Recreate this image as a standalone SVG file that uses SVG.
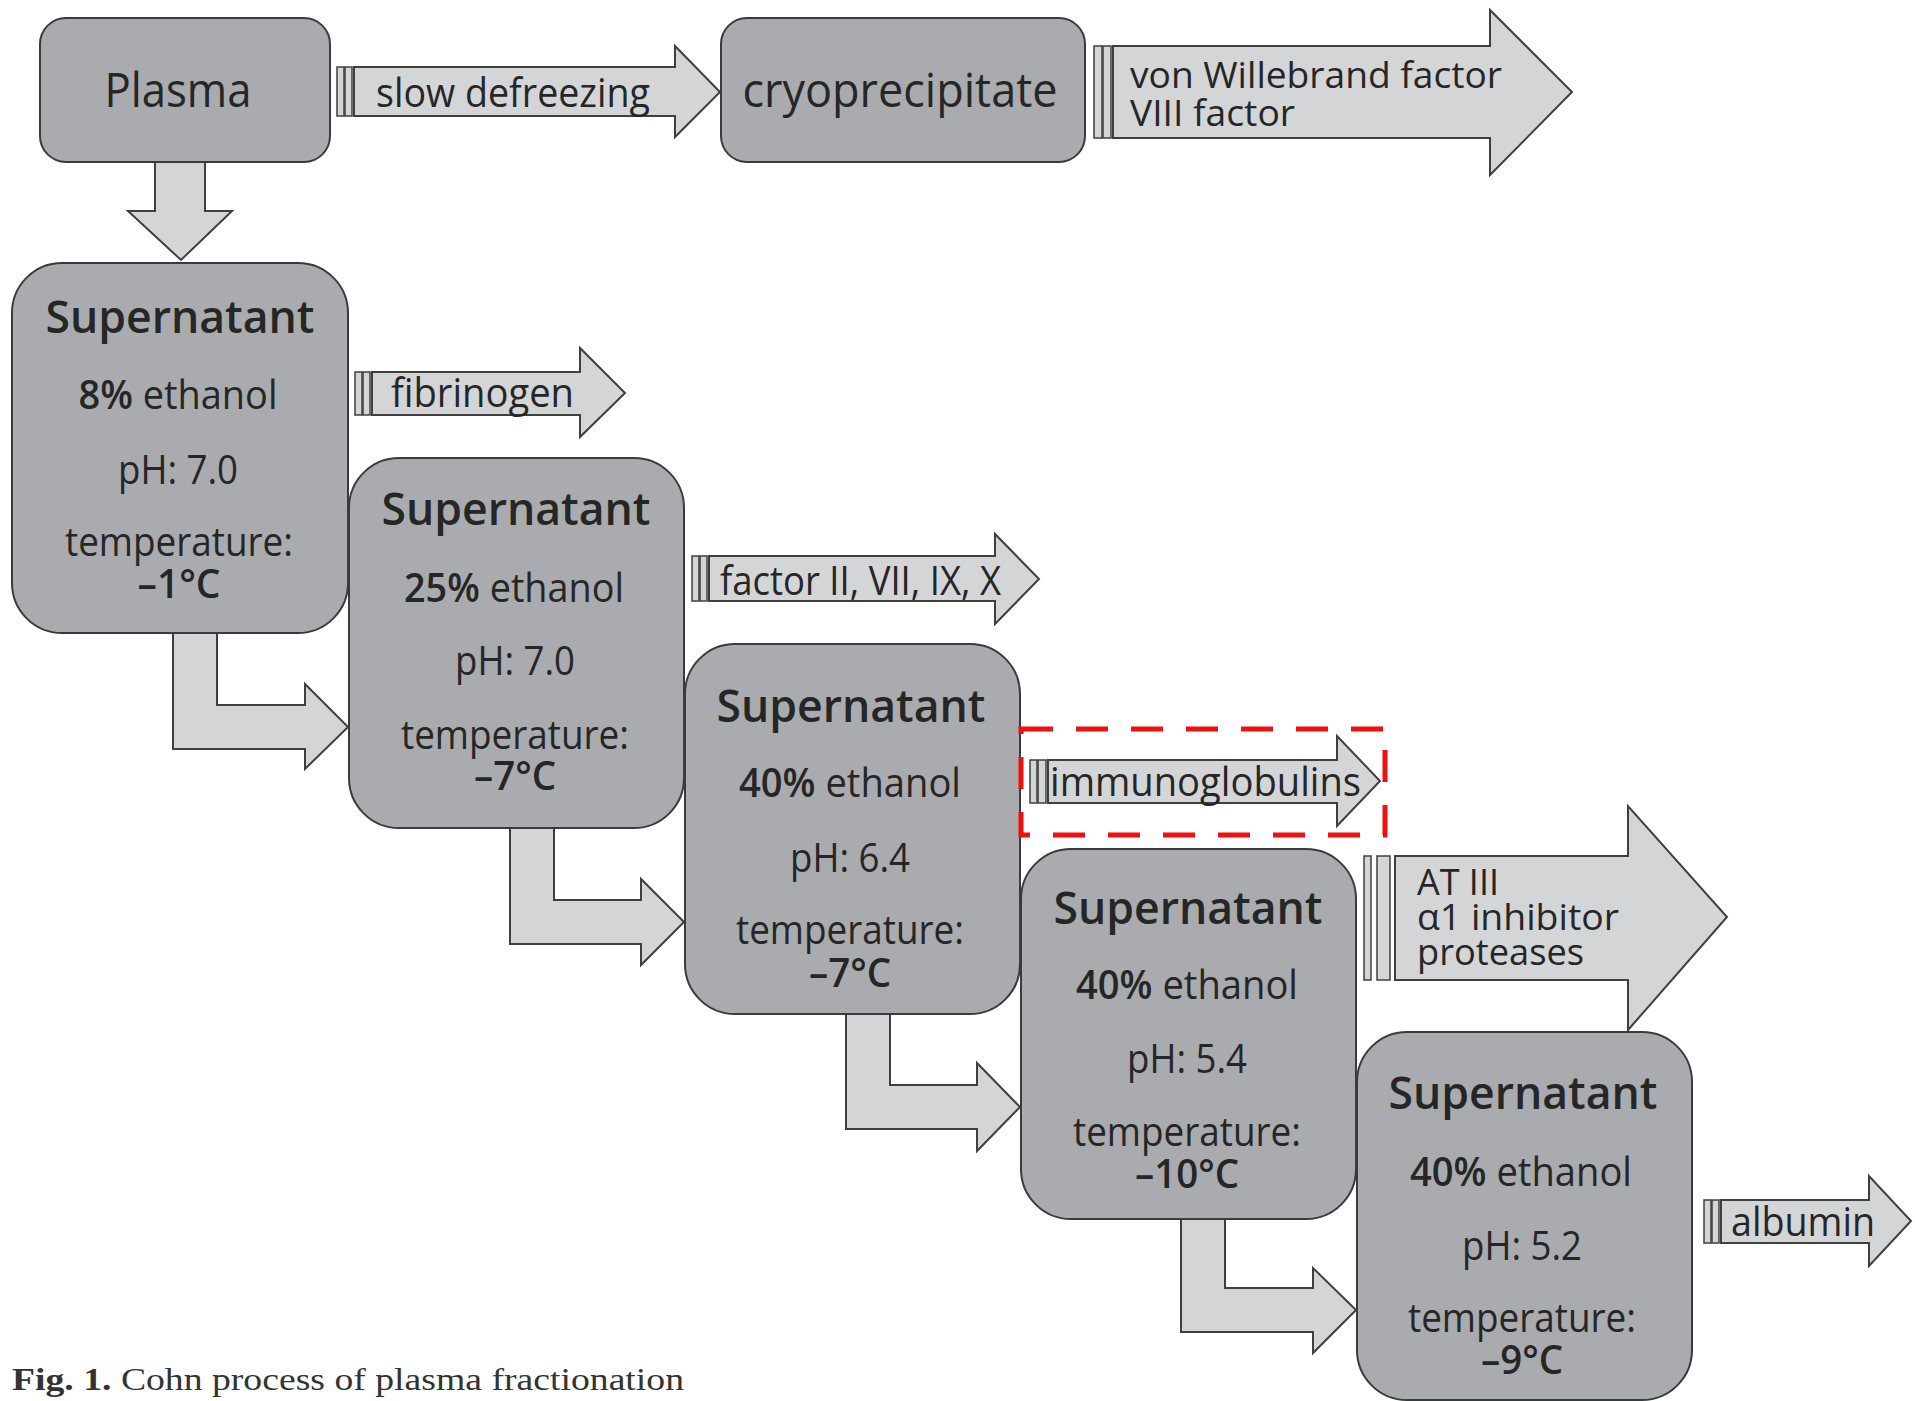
<svg xmlns="http://www.w3.org/2000/svg" width="1915" height="1401" viewBox="0 0 1915 1401">
<style>
.box{fill:#a9abae;stroke:#3b3b3b;stroke-width:2}
.arr{fill:#d4d5d7;stroke:#3f3f3f;stroke-width:2}
.bar{fill:#d4d5d7;stroke:#3f3f3f;stroke-width:1.5}
.t{font-family:'Open Sans','Noto Sans',sans-serif;fill:#262626;font-size:40px}
.s{font-size:36px}
.m{text-anchor:middle}
.b{font-weight:600}
.h{font-size:46px;font-weight:600}
.cap{font-family:'Liberation Serif','Times New Roman',serif;fill:#333;font-size:32px}
</style>
<rect width="1915" height="1401" fill="#ffffff"/>
<g id="connectors">
  <polygon class="arr" points="155,162 205,162 205,211 232,211 181,260 128,211 155,211"/>
  <g id="arrow-slow">
    <rect class="bar" x="337" y="67" width="7" height="49"/>
    <rect class="bar" x="345" y="67" width="7" height="49"/>
    <polygon class="arr" points="354,67 675,67 675,46 720,92 675,137 675,116 354,116"/>
  </g>
  <g id="arrow-vwf">
    <rect class="bar" x="1094" y="46" width="8" height="92"/>
    <rect class="bar" x="1103" y="46" width="8" height="92"/>
    <polygon class="arr" points="1113,46 1490,46 1490,10 1572,92 1490,175 1490,138 1113,138"/>
  </g>
  <g id="arrow-fib">
    <rect class="bar" x="355" y="372" width="7" height="43"/>
    <rect class="bar" x="363" y="372" width="7" height="43"/>
    <polygon class="arr" points="372,372 580,372 580,348 625,393 580,437 580,415 372,415"/>
  </g>
  <g id="arrow-factor">
    <rect class="bar" x="692" y="556" width="7" height="45"/>
    <rect class="bar" x="700" y="556" width="7" height="45"/>
    <polygon class="arr" points="709,556 995,556 995,534 1039,579 995,624 995,601 709,601"/>
  </g>
  <g id="arrow-ig">
    <rect class="bar" x="1030" y="760" width="7" height="43"/>
    <rect class="bar" x="1038" y="760" width="8" height="43"/>
    <polygon class="arr" points="1048,760 1337,760 1337,736 1380,781 1337,826 1337,803 1048,803"/>
  </g>
  <g id="arrow-at3">
    <rect class="bar" x="1364" y="856" width="7" height="124"/>
    <rect class="bar" x="1377" y="856" width="13" height="124"/>
    <polygon class="arr" points="1395,856 1628,856 1628,806 1727,917 1628,1030 1628,980 1395,980"/>
  </g>
  <g id="arrow-alb">
    <rect class="bar" x="1704" y="1200" width="7" height="43"/>
    <rect class="bar" x="1712" y="1200" width="7" height="43"/>
    <polygon class="arr" points="1721,1200 1869,1200 1869,1176 1911,1221 1869,1266 1869,1243 1721,1243"/>
  </g>
  <polygon class="arr" points="173,632 217,632 217,705 305,705 305,684 348,727 305,769 305,749 173,749"/>
  <polygon class="arr" points="510,828 554,828 554,900 641,900 641,879 684,922 641,965 641,944 510,944"/>
  <polygon class="arr" points="846,1013 890,1013 890,1085 977,1085 977,1063 1020,1107 977,1151 977,1129 846,1129"/>
  <polygon class="arr" points="1181,1219 1225,1219 1225,1288 1313,1288 1313,1268 1356,1310 1313,1353 1313,1332 1181,1332"/>
</g>
<g id="labels">
  <text class="t" x="376" y="107" textLength="274" lengthAdjust="spacingAndGlyphs">slow defreezing</text>
  <text class="t s" x="1130" y="88" textLength="372" lengthAdjust="spacingAndGlyphs">von Willebrand factor</text>
  <text class="t s" x="1130" y="126" textLength="165" lengthAdjust="spacingAndGlyphs">VIII factor</text>
  <text class="t" x="391" y="407" textLength="183" lengthAdjust="spacingAndGlyphs">fibrinogen</text>
  <text class="t" x="720" y="595" textLength="281" lengthAdjust="spacingAndGlyphs">factor II, VII, IX, X</text>
  <text class="t" x="1050" y="796" textLength="311" lengthAdjust="spacingAndGlyphs">immunoglobulins</text>
  <text class="t s" x="1417" y="895" textLength="82" lengthAdjust="spacingAndGlyphs">AT III</text>
  <text class="t s" x="1417" y="930" textLength="202" lengthAdjust="spacingAndGlyphs">α1 inhibitor</text>
  <text class="t s" x="1417" y="965" textLength="167" lengthAdjust="spacingAndGlyphs">proteases</text>
  <text class="t" x="1731" y="1236" textLength="144" lengthAdjust="spacingAndGlyphs">albumin</text>
</g>
<g id="plasma">
  <rect class="box" x="40" y="18" width="290" height="144" rx="26"/>
  <text class="t m" x="178" y="107" style="font-size:48px" textLength="147" lengthAdjust="spacingAndGlyphs">Plasma</text>
</g>
<g id="cryoprecipitate">
  <rect class="box" x="721" y="18" width="364" height="144" rx="26"/>
  <text class="t m" x="900" y="107" style="font-size:48px" textLength="315" lengthAdjust="spacingAndGlyphs">cryoprecipitate</text>
</g>
<g id="supernatant1">
  <rect class="box" x="12" y="263" width="336" height="370" rx="50"/>
  <text class="t m h" x="180" y="333" textLength="269" lengthAdjust="spacingAndGlyphs">Supernatant</text>
  <text class="t m" x="178" y="409" textLength="199" lengthAdjust="spacingAndGlyphs"><tspan class="b">8%</tspan> ethanol</text>
  <text class="t m" x="178" y="484" textLength="120" lengthAdjust="spacingAndGlyphs">pH: 7.0</text>
  <text class="t m" x="179" y="556" textLength="228" lengthAdjust="spacingAndGlyphs">temperature:</text>
  <text class="t m b" x="179" y="598" textLength="83" lengthAdjust="spacingAndGlyphs">–1°C</text>
</g>
<g id="supernatant2">
  <rect class="box" x="349" y="458" width="335" height="370" rx="50"/>
  <text class="t m h" x="516" y="525" textLength="269" lengthAdjust="spacingAndGlyphs">Supernatant</text>
  <text class="t m" x="514" y="602" textLength="220" lengthAdjust="spacingAndGlyphs"><tspan class="b">25%</tspan> ethanol</text>
  <text class="t m" x="515" y="675" textLength="120" lengthAdjust="spacingAndGlyphs">pH: 7.0</text>
  <text class="t m" x="515" y="749" textLength="228" lengthAdjust="spacingAndGlyphs">temperature:</text>
  <text class="t m b" x="515" y="790" textLength="82" lengthAdjust="spacingAndGlyphs">–7°C</text>
</g>
<g id="supernatant3">
  <rect class="box" x="685" y="644" width="335" height="370" rx="50"/>
  <text class="t m h" x="851" y="722" textLength="269" lengthAdjust="spacingAndGlyphs">Supernatant</text>
  <text class="t m" x="850" y="797" textLength="222" lengthAdjust="spacingAndGlyphs"><tspan class="b">40%</tspan> ethanol</text>
  <text class="t m" x="850" y="872" textLength="120" lengthAdjust="spacingAndGlyphs">pH: 6.4</text>
  <text class="t m" x="850" y="944" textLength="228" lengthAdjust="spacingAndGlyphs">temperature:</text>
  <text class="t m b" x="850" y="987" textLength="82" lengthAdjust="spacingAndGlyphs">–7°C</text>
</g>
<g id="supernatant4">
  <rect class="box" x="1021" y="849" width="335" height="370" rx="50"/>
  <text class="t m h" x="1188" y="924" textLength="269" lengthAdjust="spacingAndGlyphs">Supernatant</text>
  <text class="t m" x="1187" y="999" textLength="222" lengthAdjust="spacingAndGlyphs"><tspan class="b">40%</tspan> ethanol</text>
  <text class="t m" x="1187" y="1073" textLength="120" lengthAdjust="spacingAndGlyphs">pH: 5.4</text>
  <text class="t m" x="1187" y="1146" textLength="228" lengthAdjust="spacingAndGlyphs">temperature:</text>
  <text class="t m b" x="1187" y="1188" textLength="104" lengthAdjust="spacingAndGlyphs">–10°C</text>
</g>
<g id="supernatant5">
  <rect class="box" x="1357" y="1032" width="335" height="368" rx="50"/>
  <text class="t m h" x="1523" y="1109" textLength="269" lengthAdjust="spacingAndGlyphs">Supernatant</text>
  <text class="t m" x="1521" y="1186" textLength="222" lengthAdjust="spacingAndGlyphs"><tspan class="b">40%</tspan> ethanol</text>
  <text class="t m" x="1522" y="1260" textLength="120" lengthAdjust="spacingAndGlyphs">pH: 5.2</text>
  <text class="t m" x="1522" y="1332" textLength="228" lengthAdjust="spacingAndGlyphs">temperature:</text>
  <text class="t m b" x="1522" y="1374" textLength="82" lengthAdjust="spacingAndGlyphs">–9°C</text>
</g>
<g id="highlight">
  <rect x="1021" y="729" width="364" height="106" fill="none" stroke="#ee1111" stroke-width="5" stroke-dasharray="32 23"/>
</g>
<g id="caption">
  <text class="cap" x="12" y="1390" textLength="672" lengthAdjust="spacingAndGlyphs"><tspan font-weight="bold">Fig. 1.</tspan> Cohn process of plasma fractionation</text>
</g>
</svg>
